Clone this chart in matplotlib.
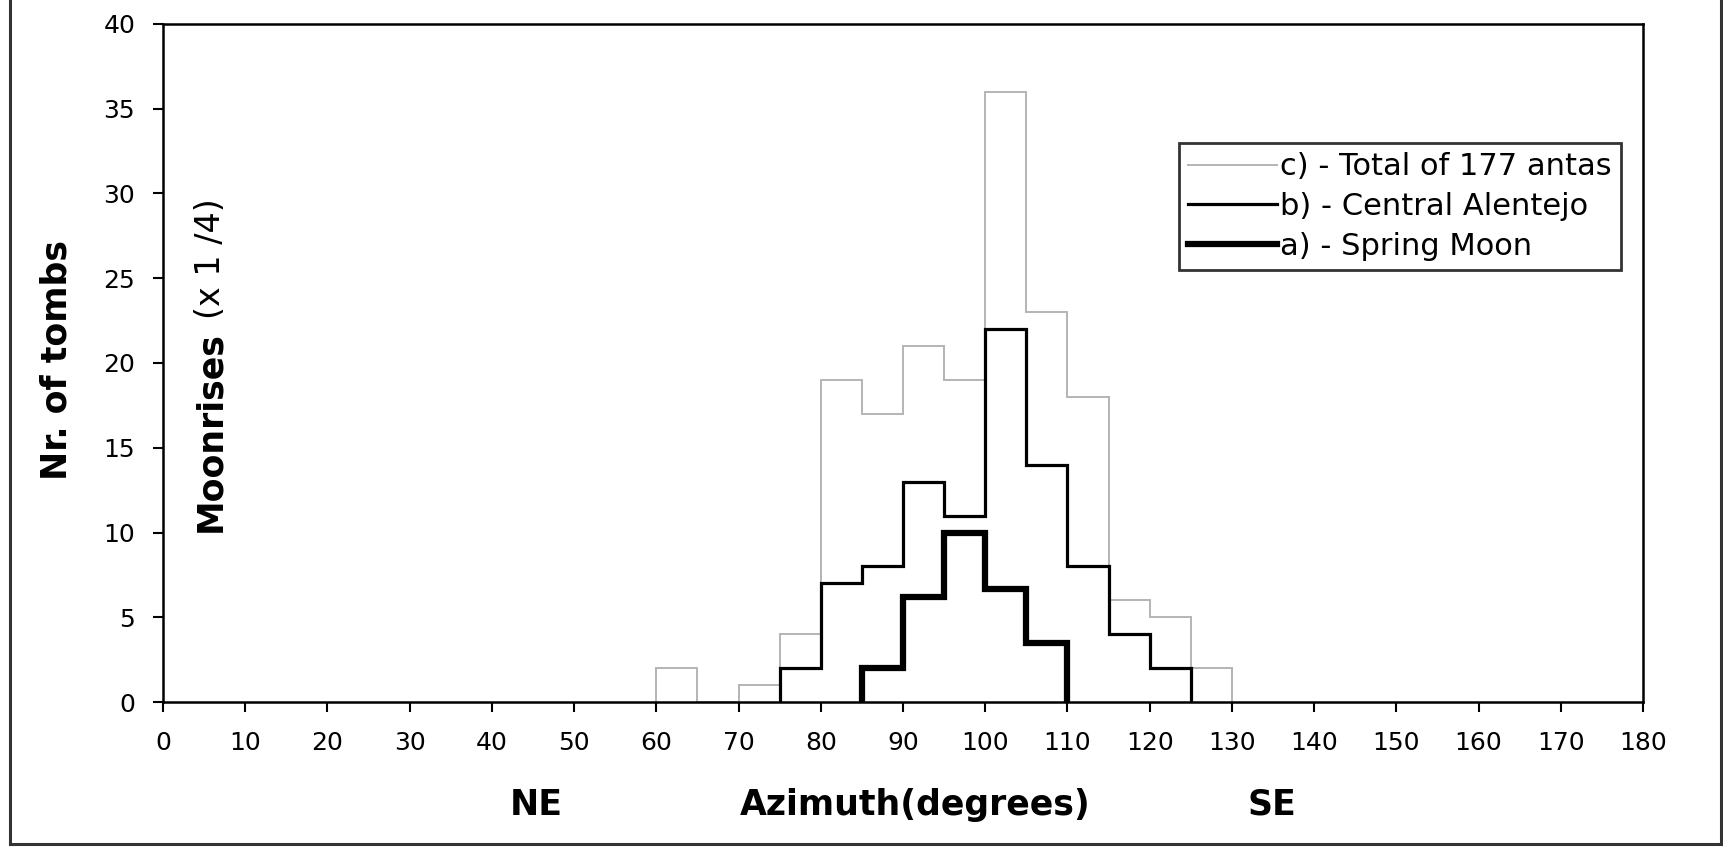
import matplotlib
matplotlib.use("Agg")
import matplotlib.pyplot as plt
from matplotlib.lines import Line2D

# bin edges (degrees) and counts
edges_total = [60, 65, 70, 75, 80, 85, 90, 95, 100, 105, 110, 115, 120, 125, 130]
total_177 = [2, 0, 1, 4, 19, 17, 21, 19, 36, 23, 18, 6, 5, 2]

edges_central = [75, 80, 85, 90, 95, 100, 105, 110, 115, 120, 125]
central_alentejo = [2, 7, 8, 13, 11, 22, 14, 8, 4, 2]

edges_moon = [85, 90, 95, 100, 105, 110]
spring_moon = [2, 6.2, 10, 6.7, 3.5]

labels = ["c) - Total of 177 antas", "b) - Central Alentejo", "a) - Spring Moon"]

fig = plt.figure(figsize=(17.23, 8.47), dpi=100)
ax = fig.add_axes([0.0946, 0.171, 0.859, 0.801])

ax.stairs(total_177, edges_total, baseline=0, color="#b4b4b4", lw=1.4, label=labels[0])
ax.stairs(central_alentejo, edges_central, baseline=0, color="black", lw=2.3, label=labels[1])
ax.stairs(spring_moon, edges_moon, baseline=0, color="black", lw=4.5, label=labels[2])

ax.set_xlim(0, 180)
ax.set_ylim(0, 40)
ax.set_xticks(range(0, 181, 10))
ax.set_yticks(range(0, 41, 5))
ax.tick_params(direction="out", length=7, width=1.5, labelsize=18)
ax.tick_params(axis="x", pad=14)
ax.tick_params(axis="y", pad=13)
for s in ax.spines.values():
    s.set_linewidth(1.8)

leg = ax.legend(loc="upper right", bbox_to_anchor=(0.985, 0.824), fontsize=22,
                frameon=True, fancybox=False, edgecolor="black", handlelength=2.9,
                handletextpad=0.1, borderpad=0.3, labelspacing=0.35, borderaxespad=0)
leg.get_frame().set_linewidth(2)

# axis titles
fig.text(0.033, 0.575, "Nr. of tombs", rotation=90, fontsize=25, fontweight="bold",
         ha="center", va="center")
fig.text(0.122, 0.372, "Moonrises", rotation=90, fontsize=25, fontweight="bold",
         ha="center", va="bottom")
fig.text(0.122, 0.623, "(x 1 /4)", rotation=90, fontsize=24,
         ha="center", va="bottom")
fig.text(0.311, 0.05, "NE", fontsize=25, fontweight="bold", ha="center", va="center")
fig.text(0.531, 0.05, "Azimuth(degrees)", fontsize=25, fontweight="bold", ha="center", va="center")
fig.text(0.738, 0.05, "SE", fontsize=25, fontweight="bold", ha="center", va="center")

# outer frame
for xs, ys in [([0.006, 0.006], [1.0, 0.003]), ([0.006, 0.999], [0.003, 0.003]),
               ([0.999, 0.999], [0.003, 1.0])]:
    fig.add_artist(Line2D(xs, ys, color="#333333", lw=2.2, transform=fig.transFigure))

fig.savefig("out.png", dpi=100)
